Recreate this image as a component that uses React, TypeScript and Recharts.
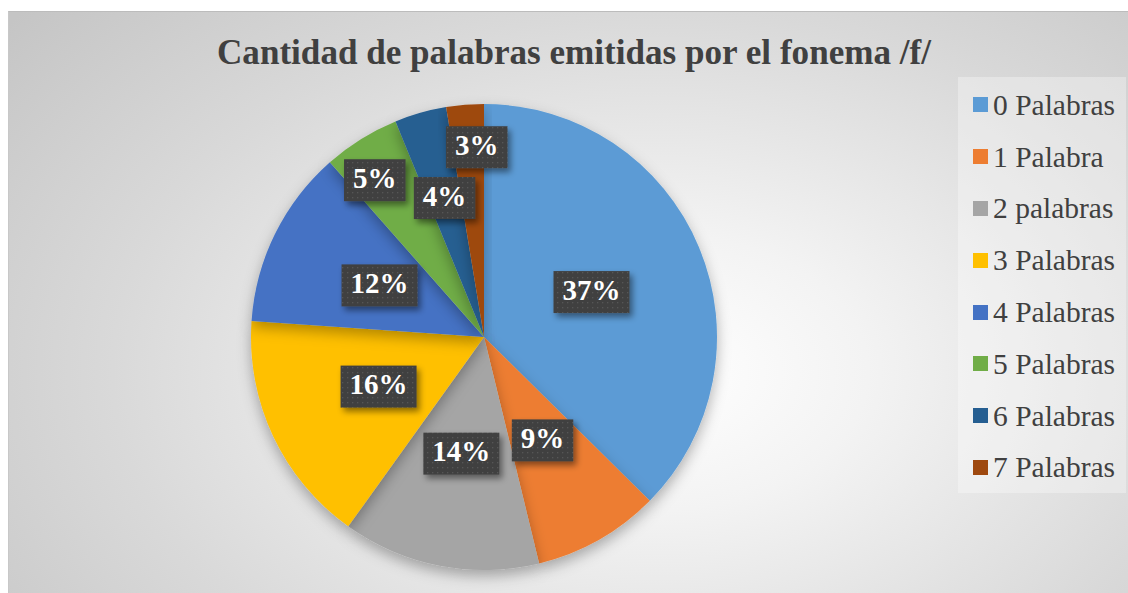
import React from 'react';
import { PieChart, Pie, Cell, Legend } from 'recharts';

const categories = ['0 Palabras', '1 Palabra', '2 palabras', '3 Palabras', '4 Palabras', '5 Palabras', '6 Palabras', '7 Palabras'];
const values = [37.4, 8.8, 13.7, 16.2, 12.4, 5.3, 3.6, 2.6];
const colors = ['#5B9BD5', '#ED7D31', '#A5A5A5', '#FFC000', '#4472C4', '#70AD47', '#255E91', '#9E480E'];
const title = 'Cantidad de palabras emitidas por el fonema /f/';

// label distance from centre as a fraction of the radius (layout only)
const labelRadius = [0.5, 0.51, 0.51, 0.5, 0.5, 0.82, 0.62, 0.815];
const labelAngleShift = [0, 0, 0, 0, 0, 3, 0, -2.5];

const data = categories.map((name, i) => ({ name, value: values[i] }));

const RAD = Math.PI / 180;
const FONT = '"Liberation Serif", "Times New Roman", serif';

const renderLabel = (props: any) => {
  const { cx, cy, midAngle, outerRadius, percent, index } = props;
  const r = outerRadius * labelRadius[index];
  const a = midAngle + labelAngleShift[index];
  const x = cx + r * Math.cos(-a * RAD);
  const y = cy + r * Math.sin(-a * RAD);
  const text = `${Math.round(percent * 100)}%`;
  const fs = 29;
  const w = (text.length - 1) * fs * 0.5 + fs + 18;
  const h = 42;
  return (
    <g key={`lbl-${index}`}>
      <rect x={x - w / 2} y={y - h / 2} width={w} height={h} fill="url(#dotPat)" filter="url(#lblShadow)" />
      <text x={x} y={y + 1} textAnchor="middle" dominantBaseline="middle" fill="#ffffff"
        style={{ fontFamily: FONT, fontWeight: 'bold', fontSize: fs }}>{text}</text>
    </g>
  );
};

const renderLegend = (props: any) => {
  const payload = props.payload || [];
  return (
    <div style={{ width: 168, height: 416, background: 'rgba(255,255,255,0.32)', boxSizing: 'border-box', paddingTop: 2 }}>
      {payload.map((p: any, i: number) => (
        <div key={i} style={{ display: 'flex', alignItems: 'center', height: 51.8, paddingLeft: 15 }}>
          <span style={{ width: 15, height: 15, background: p.color, display: 'inline-block', marginRight: 5 }} />
          <span style={{ fontFamily: FONT, fontSize: 29.5, color: '#404040', lineHeight: '30px', whiteSpace: 'nowrap' }}>{p.value}</span>
        </div>
      ))}
    </div>
  );
};

export default function App() {
  return (
    <div style={{ position: 'absolute', left: 0, top: 0, width: 1128, height: 593, background: '#ffffff', overflow: 'hidden' }}>
      <svg width={0} height={0} style={{ position: 'absolute' }}>
        <defs>
          <pattern id="dotPat" width="5" height="5" patternUnits="userSpaceOnUse">
            <rect width="5" height="5" fill="#404040" />
            <rect x="2" y="2" width="1.3" height="1.3" fill="#575757" />
          </pattern>
          <filter id="lblShadow" x="-30%" y="-30%" width="170%" height="190%">
            <feDropShadow dx="3" dy="4" stdDeviation="3" floodColor="#000" floodOpacity="0.45" />
          </filter>
          <filter id="pieShadow" x="-20%" y="-20%" width="140%" height="150%">
            <feDropShadow dx="0" dy="6" stdDeviation="7" floodColor="#000" floodOpacity="0.3" />
          </filter>
        </defs>
      </svg>
      <div style={{
        position: 'absolute', left: 8, top: 11, width: 1120, height: 582,
        borderTop: '1px solid #bcbcbc', borderLeft: '1px solid #c8c8c8', boxSizing: 'border-box',
        background: 'radial-gradient(ellipse 75% 95% at 58% 62%, #ffffff 0%, #f3f3f3 25%, #d9d9d9 65%, #c5c5c5 100%)',
      }} />
      <svg width={1128} height={100} style={{ position: 'absolute', left: 0, top: 0 }}>
        <text x={574} y={64} textAnchor="middle" fill="#404040"
          transform="translate(574 0) scale(0.975 1) translate(-574 0)"
          style={{ fontFamily: FONT, fontWeight: 'bold', fontSize: 36 }}>{title}</text>
      </svg>
      <div style={{ position: 'absolute', left: 0, top: 0 }}>
        <PieChart width={1128} height={593} margin={{ top: 0, right: 0, bottom: 0, left: 0 }}>
          <Pie
            data={data}
            dataKey="value"
            nameKey="name"
            cx={484}
            cy={337}
            outerRadius={233}
            startAngle={90}
            endAngle={-270}
            stroke="none"
            isAnimationActive={false}
            label={renderLabel}
            labelLine={false}
            style={{ filter: 'url(#pieShadow)' }}
          >
            {data.map((d, i) => (
              <Cell key={d.name} fill={colors[i]} stroke="none" />
            ))}
          </Pie>
          <Legend
            layout="vertical"
            align="right"
            verticalAlign="top"
            content={renderLegend}
            wrapperStyle={{ position: 'absolute', left: 958, top: 77, width: 168, height: 416 }}
          />
        </PieChart>
      </div>
    </div>
  );
}
